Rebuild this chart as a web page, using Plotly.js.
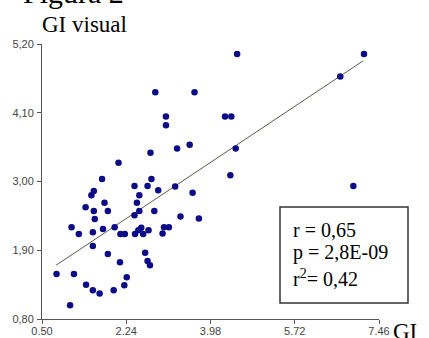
<!DOCTYPE html>
<html>
<head>
<meta charset="utf-8">
<script src="https://cdn.plot.ly/plotly-3.0.1.min.js"></script>
<style>html,body{margin:0;padding:0;background:#fff;}#chart{width:429px;height:338px;}</style>
</head>
<body>
<div id="chart"></div>
<script>
// GI (x) and GI visual (y) values
const gi = [0.80,1.16,1.08,1.11,1.26,1.40,1.41,1.52,1.57,1.57,
  1.59,1.55,1.55,1.55,1.69,1.74,1.79,1.76,1.86,1.86,
  1.98,2.00,2.08,2.11,2.12,2.21,2.25,2.20,2.41,2.41,
  2.46,2.51,2.51,2.42,2.49,2.55,2.59,2.70,2.68,2.63,
  2.68,2.73,2.74,2.76,2.84,2.82,2.90,2.99,3.02,3.12,
  3.06,3.06,3.25,3.29,3.36,3.55,3.61,3.65,3.74,4.28,
  4.41,4.39,4.50,4.53,6.66,7.15,6.93];
const giVisual = [1.52,1.52,1.02,2.27,2.16,2.59,1.35,2.78,2.85,2.53,
  2.40,2.19,1.97,1.26,1.21,3.04,2.66,2.24,2.53,1.84,
  1.26,2.27,3.30,1.71,2.16,2.16,1.47,1.34,2.93,2.46,
  2.66,2.78,2.53,2.16,2.22,2.26,2.16,2.22,2.93,1.86,
  1.73,1.66,3.46,3.04,4.43,2.53,2.86,2.17,2.27,2.27,
  4.04,3.90,2.92,3.53,2.44,3.59,2.82,4.43,2.41,4.04,
  4.04,3.10,3.53,5.04,4.68,5.04,2.93];
// regression line end points
const fitX = [0.79, 7.13];
const fitY = [1.66, 4.93];
// tick labels
const xTickVals = [0.50, 2.24, 3.98, 5.72, 7.46];
const xTickText = ["0.50", "2.24", "3.98", "5.72", "7.46"];
const yTickVals = [0.80, 1.90, 3.00, 4.10, 5.20];
const yTickText = ["0,80", "1,90", "3,00", "4,10", "5,20"];
// texts
const figTitle = "Figura 2";
const yTitle = "GI visual";
const xTitle = "GI";
const statLines = ["r = 0,65", "p = 2,8E-09", "r<sup>2</sup>= 0,42"];

const serif = "Liberation Serif, Times New Roman, serif";
const sans = "Liberation Sans, Arial, sans-serif";

const traces = [
  {x: fitX, y: fitY, mode: "lines", type: "scatter",
   line: {color: "#5c5c4a", width: 1}, hoverinfo: "skip"},
  {x: gi, y: giVisual, mode: "markers", type: "scatter", cliponaxis: false,
   marker: {color: "#0c0c88", size: 6.5, line: {width: 0}}}
];

// plot area pixel geometry helpers (paper coords)
const L = 42, R = 379, T = 44, B = 319;
const px = v => (v - L) / (R - L);
const py = v => (B - v) / (B - T);

const annotations = [
  {text: figTitle, xref: "paper", yref: "paper", x: px(21), y: py(-7), xanchor: "left", yanchor: "middle",
   showarrow: false, font: {family: serif, size: 30, color: "#000"}},
  {text: yTitle, xref: "paper", yref: "paper", x: px(40), y: py(24.5), xanchor: "left", yanchor: "middle",
   showarrow: false, font: {family: serif, size: 23, color: "#000"}},
  {text: xTitle, xref: "paper", yref: "paper", x: px(391), y: py(331), xanchor: "left", yanchor: "middle",
   showarrow: false, font: {family: serif, size: 23, color: "#000"}}
];
const statMid = [229.5, 252, 278];
statLines.forEach((s, i) => annotations.push({
  text: s, xref: "paper", yref: "paper", x: px(291), y: py(statMid[i]), xanchor: "left", yanchor: "middle",
  showarrow: false, font: {family: serif, size: 20, color: "#000"}
}));

const layout = {
  width: 429, height: 338,
  margin: {l: L, r: 429 - R, t: T, b: 338 - B, pad: 0},
  paper_bgcolor: "#fff", plot_bgcolor: "#fff",
  showlegend: false,
  xaxis: {range: [0.5, 7.46], tickmode: "array", tickvals: xTickVals, ticktext: xTickText,
    showline: true, linecolor: "#555", linewidth: 1, ticks: "outside", ticklen: 4, tickcolor: "#555",
    ticklabelstandoff: -2,
    showgrid: false, zeroline: false, tickfont: {family: sans, size: 11, color: "#444"}},
  yaxis: {range: [0.8, 5.2], tickmode: "array", tickvals: yTickVals, ticktext: yTickText,
    showline: true, linecolor: "#555", linewidth: 1, ticks: "outside", ticklen: 4, tickcolor: "#555",
    ticklabelstandoff: 1,
    showgrid: false, zeroline: false, tickfont: {family: sans, size: 11, color: "#444"}},
  shapes: [{type: "rect", xref: "paper", yref: "paper", x0: px(280), x1: px(408), y0: py(303), y1: py(207),
    line: {color: "#333", width: 1.5}, fillcolor: "rgba(0,0,0,0)"}],
  annotations: annotations
};

Plotly.newPlot("chart", traces, layout, {staticPlot: true, displayModeBar: false});
</script>
</body>
</html>
